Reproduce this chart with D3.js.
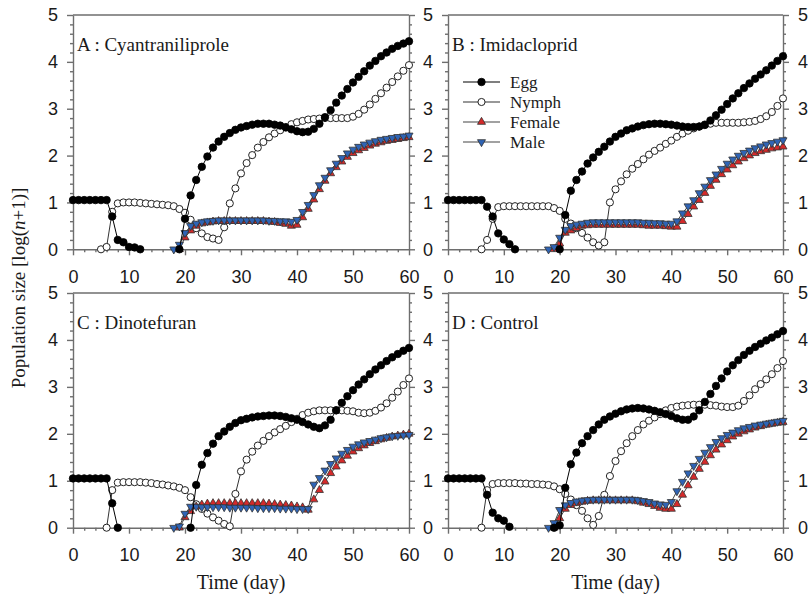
<!DOCTYPE html>
<html>
<head>
<meta charset="utf-8">
<script src="https://cdn.jsdelivr.net/npm/d3@7"></script>
<style>
  body { margin: 0; background: #fff; }
  svg { display: block; }
</style>
</head>
<body>
<svg id="chart" width="808" height="595"></svg>
<script>
// day index 0..60 shared by every series
const days = d3.range(0, 61)
const xTicks = [0, 10, 20, 30, 40, 50, 60]
const yTicks = [0, 1, 2, 3, 4, 5]
const seriesNames = ["Egg", "Nymph", "Female", "Male"]
const panelTitles = ["A : Cyantraniliprole", "B : Imidacloprid", "C : Dinotefuran", "D : Control"]

// A : Cyantraniliprole
const eggA = [1.05,1.05,1.05,1.05,1.05,1.05,1.05,0.7,0.2,0.15,0.05,0.04,0.0,
  null,null,null,null,null,null,
  0,0.65,1.15,1.48,1.76,1.98,2.17,2.3,2.4,2.48,2.55,2.6,2.63,2.66,2.68,2.68,2.68,2.66,2.64,2.6,2.56,2.52,
  2.5,2.51,2.57,2.68,2.82,2.97,3.13,3.28,3.42,3.56,3.68,3.8,3.92,4.02,4.12,4.2,4.28,4.34,4.39,4.44]
const nymphA = [null,null,null,null,null,
  0,0.05,0.8,0.98,1.0,1.0,1.0,0.99,0.98,0.97,0.96,0.95,0.94,0.92,0.86,0.78,0.63,0.45,0.34,0.26,0.23,0.2,
  0.47,0.98,1.3,1.62,1.84,2.01,2.17,2.29,2.39,2.47,2.54,2.61,2.67,2.71,2.74,2.77,2.78,2.79,2.8,2.8,2.8,2.8,2.8,
  2.83,2.89,2.98,3.09,3.21,3.33,3.45,3.57,3.69,3.81,3.93]
const femaleA = [null,null,null,null,null,null,null,null,null,null,null,null,null,null,null,null,null,null,null,
  0,0.25,0.4,0.5,0.55,0.57,0.59,0.6,0.6,0.6,0.6,0.6,0.6,0.6,0.6,0.6,0.59,0.58,0.56,0.54,0.5,0.52,
  0.68,0.86,1.06,1.28,1.46,1.62,1.75,1.87,1.97,2.05,2.11,2.16,2.21,2.25,2.28,2.31,2.33,2.35,2.37,2.39]
const maleA = [null,null,null,null,null,null,null,null,null,null,null,null,null,null,null,null,null,null,
  0,0.1,0.35,0.5,0.55,0.58,0.6,0.61,0.62,0.62,0.62,0.62,0.62,0.62,0.62,0.62,0.62,0.61,0.61,0.6,0.6,0.59,0.63,
  0.8,0.95,1.16,1.37,1.53,1.69,1.83,1.95,2.05,2.13,2.19,2.24,2.28,2.31,2.34,2.36,2.38,2.4,2.41,2.43]

// B : Imidacloprid
const eggB = [1.05,1.05,1.05,1.05,1.05,1.05,1.05,0.91,0.7,0.34,0.21,0.11,0.0,
  null,null,null,null,null,null,null,
  0,0.73,1.25,1.48,1.66,1.83,1.96,2.08,2.19,2.3,2.4,2.47,2.54,2.58,2.62,2.65,2.67,2.68,2.68,2.67,2.66,
  2.64,2.62,2.61,2.61,2.62,2.66,2.75,2.86,2.98,3.1,3.22,3.33,3.44,3.54,3.64,3.73,3.82,3.92,4.02,4.12]
const nymphB = [null,null,null,null,null,null,
  0,0.2,0.65,0.9,0.92,0.92,0.92,0.92,0.92,0.92,0.92,0.92,0.92,0.88,0.82,0.65,0.55,0.45,0.35,0.25,0.15,0.08,0.15,
  1.0,1.28,1.45,1.6,1.72,1.82,1.92,2.02,2.1,2.17,2.25,2.32,2.4,2.47,2.53,2.58,2.62,2.65,2.68,2.7,2.7,
  2.7,2.7,2.7,2.71,2.72,2.74,2.78,2.84,2.93,3.06,3.22]
const femaleB = [null,null,null,null,null,null,null,null,null,null,null,null,null,null,null,null,null,null,null,
  0,0.12,0.35,0.4,0.45,0.5,0.51,0.52,0.52,0.52,0.52,0.52,0.52,0.52,0.52,0.52,0.51,0.5,0.5,0.5,0.49,0.48,
  0.48,0.6,0.75,0.91,1.05,1.2,1.35,1.48,1.6,1.7,1.79,1.87,1.94,2.0,2.05,2.09,2.12,2.15,2.17,2.19]
const maleB = [null,null,null,null,null,null,null,null,null,null,null,null,null,null,null,null,null,null,
  0,0.05,0.25,0.42,0.5,0.53,0.55,0.57,0.58,0.58,0.58,0.58,0.58,0.58,0.58,0.58,0.58,0.57,0.57,0.56,0.56,0.55,0.55,
  0.6,0.77,0.92,1.05,1.2,1.34,1.48,1.6,1.72,1.83,1.92,2.0,2.06,2.11,2.16,2.2,2.24,2.27,2.3,2.33]

// C : Dinotefuran
const eggC = [1.05,1.05,1.05,1.05,1.05,1.05,1.05,0.52,0,
  null,null,null,null,null,null,null,null,null,null,null,null,
  0,0.91,1.34,1.59,1.79,1.95,2.05,2.15,2.23,2.29,2.32,2.35,2.37,2.38,2.39,2.39,2.38,2.36,2.33,2.3,
  2.25,2.2,2.15,2.12,2.18,2.3,2.5,2.66,2.8,2.93,3.05,3.16,3.27,3.37,3.46,3.55,3.63,3.7,3.77,3.83]
const nymphC = [null,null,null,null,null,null,
  0,0.8,0.96,0.97,0.97,0.97,0.97,0.96,0.95,0.93,0.92,0.9,0.88,0.85,0.8,0.65,0.5,0.4,0.3,0.22,0.15,0.08,0.03,
  0.72,1.2,1.45,1.62,1.75,1.85,1.95,2.03,2.1,2.17,2.25,2.32,2.4,2.45,2.48,2.5,2.5,2.5,2.5,2.5,2.49,
  2.48,2.45,2.44,2.45,2.49,2.56,2.65,2.77,2.9,3.04,3.18]
const femaleC = [null,null,null,null,null,null,null,null,null,null,null,null,null,null,null,null,null,null,null,
  0,0.22,0.35,0.45,0.49,0.51,0.52,0.52,0.52,0.52,0.52,0.52,0.52,0.52,0.52,0.52,0.51,0.5,0.49,0.48,0.47,0.45,
  0.43,0.38,0.6,0.8,0.98,1.16,1.3,1.43,1.53,1.62,1.69,1.75,1.8,1.84,1.88,1.91,1.94,1.96,1.98,2.0]
const maleC = [null,null,null,null,null,null,null,null,null,null,null,null,null,null,null,null,null,null,
  0,0.03,0.3,0.45,0.45,0.44,0.44,0.44,0.44,0.44,0.43,0.43,0.43,0.43,0.43,0.42,0.42,0.42,0.42,0.41,0.41,0.41,0.4,
  0.4,0.4,0.92,1.06,1.22,1.36,1.48,1.58,1.66,1.73,1.78,1.82,1.85,1.88,1.91,1.93,1.95,1.96,1.97,1.98]

// D : Control
const eggD = [1.05,1.05,1.05,1.05,1.05,1.05,1.05,0.7,0.32,0.2,0.15,0.02,
  null,null,null,null,null,null,null,
  0,0.05,0.85,1.35,1.6,1.8,1.95,2.08,2.2,2.3,2.37,2.43,2.48,2.52,2.54,2.55,2.54,2.52,2.49,2.46,2.42,2.38,
  2.33,2.3,2.3,2.37,2.5,2.68,2.85,3.02,3.18,3.33,3.46,3.57,3.68,3.77,3.85,3.92,3.99,4.05,4.12,4.19]
const nymphD = [null,null,null,null,null,null,
  0,0.8,0.93,0.95,0.95,0.95,0.95,0.94,0.94,0.93,0.93,0.92,0.91,0.88,0.82,0.72,0.6,0.48,0.36,0.2,0.06,0.25,0.7,
  1.1,1.42,1.63,1.8,1.95,2.08,2.2,2.28,2.35,2.42,2.5,2.55,2.58,2.6,2.61,2.62,2.62,2.62,2.61,2.6,2.58,
  2.57,2.57,2.6,2.7,2.82,2.95,3.06,3.16,3.27,3.4,3.55]
const femaleD = [null,null,null,null,null,null,null,null,null,null,null,null,null,null,null,null,null,null,null,
  0,0.2,0.4,0.48,0.52,0.55,0.57,0.58,0.58,0.58,0.58,0.58,0.58,0.58,0.58,0.56,0.53,0.5,0.46,0.42,0.4,0.4,
  0.5,0.7,0.9,1.08,1.25,1.4,1.54,1.66,1.77,1.86,1.94,2.0,2.05,2.09,2.13,2.16,2.19,2.21,2.23,2.25]
const maleD = [null,null,null,null,null,null,null,null,null,null,null,null,null,null,null,null,null,null,
  0,0.1,0.38,0.48,0.53,0.56,0.58,0.59,0.6,0.6,0.6,0.6,0.6,0.6,0.6,0.6,0.59,0.57,0.55,0.52,0.5,0.49,0.55,
  0.78,0.98,1.16,1.32,1.47,1.6,1.72,1.83,1.91,1.98,2.03,2.08,2.12,2.15,2.18,2.2,2.22,2.24,2.26,2.28]

const sans = "'Liberation Sans', Arial, sans-serif"
const serif = "'Liberation Serif', 'Times New Roman', serif"
const axisColor = "#6e6e6e"

// marker + line look of each stage
const styles = {
  Egg:    {shape: d3.symbolCircle,   size: 44, fill: "#000",    stroke: "#000", line: "#000", rot: 0},
  Nymph:  {shape: d3.symbolCircle,   size: 40, fill: "#fff",    stroke: "#222", line: "#333", rot: 0},
  Female: {shape: d3.symbolTriangle, size: 28, fill: "#d42a2a", stroke: "#333", line: "#444", rot: 0},
  Male:   {shape: d3.symbolTriangle, size: 28, fill: "#2f64b5", stroke: "#333", line: "#444", rot: 180},
}

const panels = [
  {title: panelTitles[0], data: {Egg: eggA, Nymph: nymphA, Female: femaleA, Male: maleA},
   left: 73, right: 409, top: 15, bottom: 249.3, legend: false, rightLabels: false},
  {title: panelTitles[1], data: {Egg: eggB, Nymph: nymphB, Female: femaleB, Male: maleB},
   left: 448, right: 783, top: 15, bottom: 249.3, legend: true, rightLabels: true},
  {title: panelTitles[2], data: {Egg: eggC, Nymph: nymphC, Female: femaleC, Male: maleC},
   left: 73, right: 409, top: 293, bottom: 527.7, legend: false, rightLabels: false},
  {title: panelTitles[3], data: {Egg: eggD, Nymph: nymphD, Female: femaleD, Male: maleD},
   left: 448, right: 783, top: 293, bottom: 527.7, legend: false, rightLabels: true},
]

const svg = d3.select("#chart")

const xMinor = d3.range(0, 61, 2).filter(d => d % 10 != 0)
const yMinor = d3.range(0, 26).filter(i => i % 5 != 0).map(i => i / 5)
const intFmt = d3.format("d")

function styleAxis(g) {
  g.attr("font-family", sans).attr("font-size", 18)
  g.selectAll("path, line").attr("stroke", axisColor).attr("stroke-width", 1.4)
  g.selectAll("text").attr("fill", "#1a1a1a")
}

function marker(sel, name) {
  const s = styles[name]
  sel.attr("d", d3.symbol(s.shape, s.size))
    .attr("fill", s.fill)
    .attr("stroke", s.stroke)
    .attr("stroke-width", name == "Nymph" ? 1 : 0.8)
}

function drawPanel(p) {
  const x = d3.scaleLinear([0, 60], [p.left, p.right])
  const y = d3.scaleLinear([0, 5], [p.bottom, p.top])
  const g = svg.append("g")

  // top frame line
  g.append("line")
    .attr("x1", p.left).attr("x2", p.right)
    .attr("y1", p.top).attr("y2", p.top)
    .attr("stroke", axisColor).attr("stroke-width", 1.4)

  // bottom axis, major + minor ticks
  g.append("g").attr("transform", `translate(0,${p.bottom})`)
    .call(d3.axisBottom(x).tickValues(xTicks).tickSize(6).tickSizeOuter(0).tickPadding(15))
    .call(styleAxis)
  g.append("g").attr("transform", `translate(0,${p.bottom})`)
    .call(d3.axisBottom(x).tickValues(xMinor).tickSize(3).tickFormat(""))
    .call(styleAxis)
    .select(".domain").remove()

  // left axis
  g.append("g").attr("transform", `translate(${p.left},0)`)
    .call(d3.axisLeft(y).tickValues(yTicks).tickSize(6).tickSizeOuter(0).tickPadding(9).tickFormat(intFmt))
    .call(styleAxis)
  g.append("g").attr("transform", `translate(${p.left},0)`)
    .call(d3.axisLeft(y).tickValues(yMinor).tickSize(3).tickFormat(""))
    .call(styleAxis)
    .select(".domain").remove()

  // right axis
  g.append("g").attr("transform", `translate(${p.right},0)`)
    .call(d3.axisRight(y).tickValues(yTicks).tickSize(6).tickSizeOuter(0).tickPadding(9)
      .tickFormat(p.rightLabels ? intFmt : ""))
    .call(styleAxis)
  g.append("g").attr("transform", `translate(${p.right},0)`)
    .call(d3.axisRight(y).tickValues(yMinor).tickSize(3).tickFormat(""))
    .call(styleAxis)
    .select(".domain").remove()

  // panel title
  g.append("text")
    .attr("x", p.left + 4).attr("y", p.top + 36)
    .attr("font-family", serif).attr("font-size", 19).attr("fill", "#1a1a1a")
    .text(p.title)

  const line = d3.line()
    .defined(d => d.v !== null)
    .x(d => x(d.day))
    .y(d => y(d.v))

  // series: nymph and adults first so egg dots sit on top
  for (const name of ["Nymph", "Female", "Male", "Egg"]) {
    const pts = days.map(day => ({day, v: p.data[name][day]}))
    g.append("path")
      .datum(pts)
      .attr("d", line)
      .attr("fill", "none")
      .attr("stroke", styles[name].line)
      .attr("stroke-width", 1)

    g.selectAll(null)
      .data(pts.filter(d => d.v !== null))
      .join("path")
      .attr("transform", d => `translate(${x(d.day)},${y(d.v)}) rotate(${styles[name].rot})`)
      .call(marker, name)
  }

  if (p.legend) drawLegend(g, p.left + 15)
}

function drawLegend(g, lx) {
  const rows = g.append("g").selectAll("g")
    .data(seriesNames)
    .join("g")
    .attr("transform", (d, i) => `translate(${lx},${82 + i * 20})`)

  rows.append("line")
    .attr("x1", 0).attr("x2", 37)
    .attr("stroke", d => styles[d].line)
    .attr("stroke-width", 1.2)
  rows.append("path")
    .attr("transform", d => `translate(18.5,0) rotate(${styles[d].rot})`)
    .each(function(d) { d3.select(this).call(marker, d) })
  rows.append("text")
    .attr("x", 47).attr("dy", "0.35em")
    .attr("font-family", serif).attr("font-size", 17).attr("fill", "#1a1a1a")
    .text(d => d)
}

panels.forEach(drawPanel)

// shared axis titles
svg.append("text")
  .attr("transform", "translate(25,288) rotate(-90)")
  .attr("text-anchor", "middle")
  .attr("font-family", serif).attr("font-size", 19).attr("fill", "#1a1a1a")
  .call(t => {
    t.append("tspan").text("Population size [log(")
    t.append("tspan").attr("font-style", "italic").text("n")
    t.append("tspan").text("+1)]")
  })

for (const p of panels.slice(2)) {
  svg.append("text")
    .attr("x", (p.left + p.right) / 2).attr("y", 589)
    .attr("text-anchor", "middle")
    .attr("font-family", serif).attr("font-size", 20).attr("fill", "#1a1a1a")
    .text("Time (day)")
}
</script>
</body>
</html>
